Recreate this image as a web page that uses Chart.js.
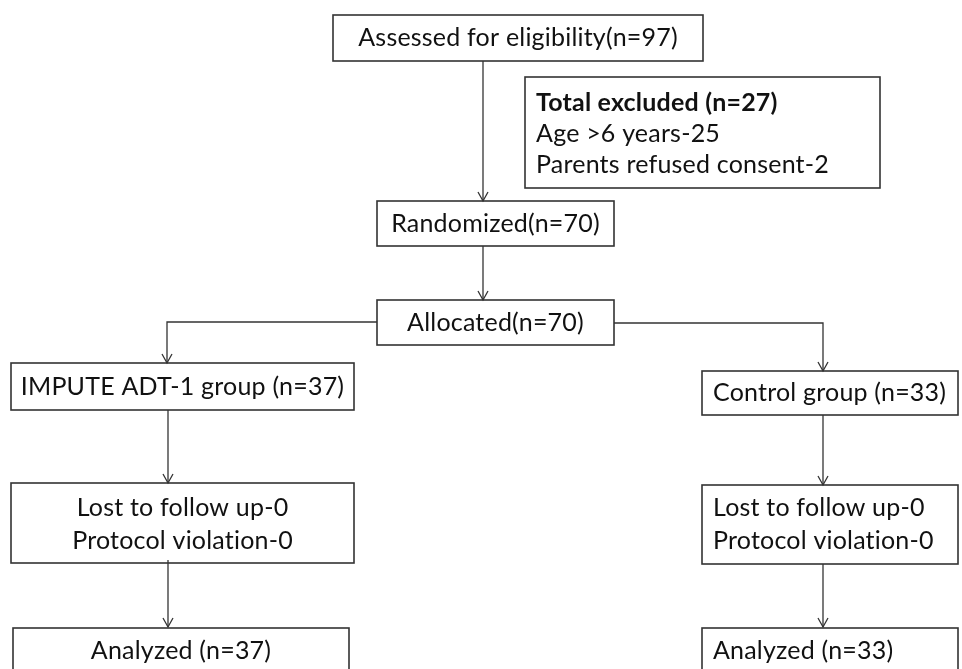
<!DOCTYPE html>
<html>
<head>
<meta charset="utf-8">
<script src="https://cdn.jsdelivr.net/npm/chart.js@4/dist/chart.umd.min.js"></script>
<style>
  html, body { margin: 0; padding: 0; background: #fff; }
  #wrap { width: 962px; height: 669px; }
</style>
</head>
<body>
<div id="wrap"><canvas id="flow"></canvas></div>
<script>
// flow stages and counts
const stageLabels = ['Assessed for eligibility', 'Randomized', 'Allocated',
  'IMPUTE ADT-1 group', 'Control group', 'Analyzed', 'Analyzed'];
const stageCounts = [97, 70, 70, 37, 33, 37, 33];
const excludedTitle = 'Total excluded';
const excludedTotal = 27;
const excludedReasons = ['Age >6 years', 'Parents refused consent'];
const excludedCounts = [25, 2];
const lossLabels = ['Lost to follow up', 'Protocol violation'];
const lossLeft = [0, 0];
const lossRight = [0, 0];

// layout in chart units (x: 0..962, y: 0..669 top-down)
const boxes = {
  assessed:  { x1: 333, y1: 15,  x2: 703, y2: 61,  align: 'center' },
  excluded:  { x1: 525, y1: 77,  x2: 880, y2: 188, align: 'left' },
  random:    { x1: 377, y1: 201, x2: 614, y2: 246, align: 'center' },
  alloc:     { x1: 377, y1: 300, x2: 614, y2: 345, align: 'center' },
  groupL:    { x1: 11,  y1: 363, x2: 354, y2: 410, align: 'center' },
  groupR:    { x1: 702, y1: 371, x2: 958, y2: 415, align: 'left' },
  lossL:     { x1: 11,  y1: 483, x2: 354, y2: 563, align: 'center' },
  lossR:     { x1: 702, y1: 485, x2: 958, y2: 564, align: 'left' },
  anaL:      { x1: 13,  y1: 628, x2: 349, y2: 700, align: 'center' },
  anaR:      { x1: 702, y1: 628, x2: 958, y2: 700, align: 'left' }
};

function nText(i) { return stageLabels[i] + '(n=' + stageCounts[i] + ')'; }
function nTextSp(i) { return stageLabels[i] + ' (n=' + stageCounts[i] + ')'; }

const boxText = {
  assessed: [{ t: nText(0), y: 38 }],
  excluded: [
    { t: excludedTitle + ' (n=' + excludedTotal + ')', y: 103, bold: true },
    { t: excludedReasons[0] + '-' + excludedCounts[0], y: 134 },
    { t: excludedReasons[1] + '-' + excludedCounts[1], y: 165 }
  ],
  random: [{ t: nText(1), y: 224 }],
  alloc: [{ t: nText(2), y: 323 }],
  groupL: [{ t: nTextSp(3), y: 387 }],
  groupR: [{ t: nTextSp(4), y: 393 }],
  lossL: [
    { t: lossLabels[0] + '-' + lossLeft[0], y: 508 },
    { t: lossLabels[1] + '-' + lossLeft[1], y: 541 }
  ],
  lossR: [
    { t: lossLabels[0] + '-' + lossRight[0], y: 508 },
    { t: lossLabels[1] + '-' + lossRight[1], y: 541 }
  ],
  anaL: [{ t: nTextSp(5), y: 651 }],
  anaR: [{ t: nTextSp(6), y: 651 }]
};

// connectors: polylines, last segment ends in an arrow
const links = [
  [[483, 61], [483, 201]],
  [[483, 246], [483, 300]],
  [[377, 322], [167, 322], [167, 363]],
  [[614, 323], [823, 323], [823, 371]],
  [[168, 410], [168, 483]],
  [[823, 415], [823, 485]],
  [[168, 560], [168, 627]],
  [[823, 564], [823, 627]]
];

const flowPlugin = {
  id: 'flow',
  afterDraw(chart) {
    const ctx = chart.ctx;
    const sx = chart.scales.x, sy = chart.scales.y;
    const px = v => sx.getPixelForValue(v);
    const py = v => sy.getPixelForValue(v);
    ctx.save();
    ctx.strokeStyle = '#333';
    ctx.fillStyle = '#111';
    ctx.letterSpacing = '0.2px'; // also stops the "ti" ligature

    // boxes
    ctx.lineWidth = 1.6;
    Object.keys(boxes).forEach(k => {
      const b = boxes[k];
      ctx.strokeRect(px(b.x1), py(b.y1), px(b.x2) - px(b.x1), py(b.y2) - py(b.y1));
      ctx.textBaseline = 'middle';
      boxText[k].forEach(line => {
        ctx.font = (line.bold ? 'bold 25px ' : '25px ') + 'Lato, "Open Sans", sans-serif';
        if (b.align === 'center') {
          ctx.textAlign = 'center';
          ctx.fillText(line.t, (px(b.x1) + px(b.x2)) / 2, py(line.y));
        } else {
          ctx.textAlign = 'left';
          ctx.fillText(line.t, px(b.x1) + 11, py(line.y));
        }
      });
    });

    // arrows
    ctx.lineWidth = 1.3;
    links.forEach(pts => {
      ctx.beginPath();
      ctx.moveTo(px(pts[0][0]), py(pts[0][1]));
      for (let i = 1; i < pts.length; i++) ctx.lineTo(px(pts[i][0]), py(pts[i][1]));
      ctx.stroke();
      const end = pts[pts.length - 1];
      const ex = px(end[0]), ey = py(end[1]);
      ctx.beginPath();
      ctx.moveTo(ex - 5, ey - 9);
      ctx.lineTo(ex, ey);
      ctx.lineTo(ex + 5, ey - 9);
      ctx.stroke();
    });
    ctx.restore();
  }
};

new Chart(document.getElementById('flow'), {
  type: 'scatter',
  data: { datasets: [{ data: [], pointRadius: 0 }] },
  options: {
    responsive: true,
    maintainAspectRatio: false,
    animation: false,
    layout: { padding: 0 },
    plugins: { legend: { display: false }, tooltip: { enabled: false } },
    scales: {
      x: { type: 'linear', min: 0, max: 962, display: false },
      y: { type: 'linear', min: 0, max: 669, reverse: true, display: false }
    }
  },
  plugins: [flowPlugin]
});
</script>
</body>
</html>
